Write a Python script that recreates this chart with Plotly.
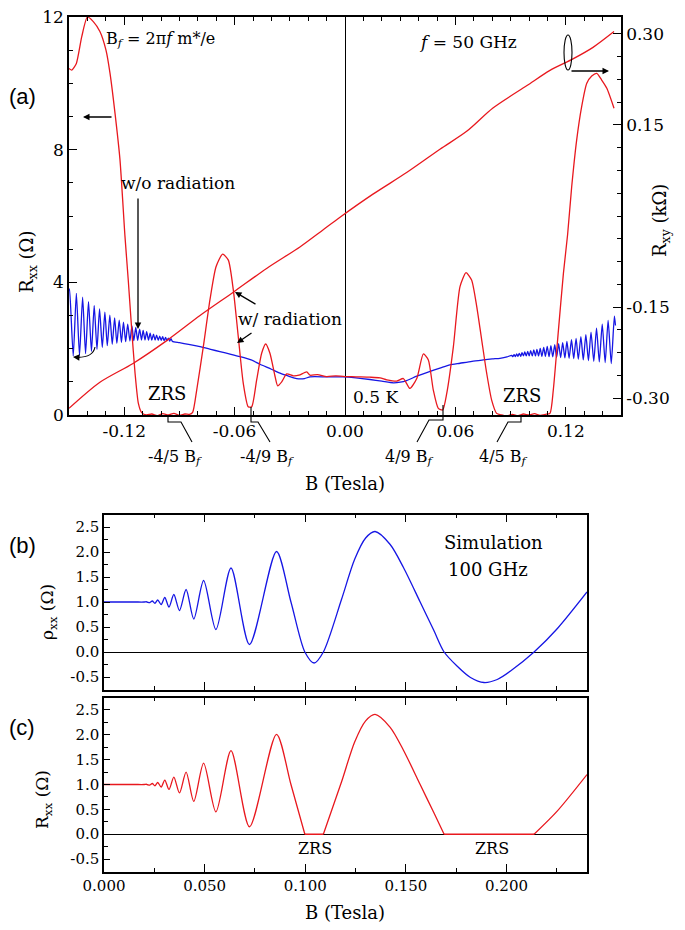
import plotly.graph_objects as go

W, H = 685, 930
SERIF = "DejaVu Serif"
SANS = "Liberation Sans"
RED = "rgb(232,24,30)"
BLUE = "rgb(22,22,228)"

# ---------------- panel (a) ----------------
# Rxx with radiation (Ohm)
rad_B = [-0.1500, -0.1485, -0.1460, -0.1431, -0.1400, -0.1368, -0.1332, -0.1299, -0.1277,
         -0.1250, -0.1223, -0.1196, -0.1178, -0.1159, -0.1141, -0.1123, -0.1105, -0.1080,
         -0.1050, -0.1020, -0.0990, -0.0960, -0.0930, -0.0900, -0.0870, -0.0845, -0.0828,
         -0.0806, -0.0770, -0.0734, -0.0701, -0.0665, -0.0634, -0.0607, -0.0580, -0.0553,
         -0.0526, -0.0507, -0.0480, -0.0453, -0.0431, -0.0408, -0.0380, -0.0366, -0.0344,
         -0.0317, -0.0281, -0.0250, -0.0208, -0.0190, -0.0150, -0.0100, -0.0050, 0.0009,
         0.0060, 0.0136, 0.0190, 0.0227, 0.0281, 0.0317, 0.0353, 0.0390, 0.0426, 0.0453,
         0.0480, 0.0507, 0.0531, 0.0553, 0.0589, 0.0625, 0.0658, 0.0688, 0.0716, 0.0743,
         0.0770, 0.0797, 0.0824, 0.0850, 0.0880, 0.0910, 0.0940, 0.0970, 0.1000, 0.1030,
         0.1060, 0.1090, 0.1114, 0.1132, 0.1160, 0.1187, 0.1210, 0.1232, 0.1259, 0.1286,
         0.1314, 0.1341, 0.1368, 0.1395, 0.1423, 0.1462]
rad_R = [10.45, 10.40, 10.60, 11.40, 12.00, 11.86, 11.56, 11.00, 10.30,
         9.10, 7.70, 5.40, 4.07, 2.56, 1.26, 0.35, 0.07, 0.00,
         0.03, -0.02, 0.04, 0.00, 0.05, -0.01, 0.03, 0.02, 0.08,
         0.75, 2.06, 3.47, 4.47, 4.85, 4.67, 3.77, 2.36, 0.96,
         0.25, 0.25, 1.06, 1.86, 2.14, 1.86, 1.16, 0.88, 1.00,
         1.24, 1.18, 1.20, 1.30, 1.20, 1.22, 1.16, 1.18, 1.16,
         1.15, 1.14, 1.12, 1.06, 1.02, 1.10, 0.80, 1.10, 1.84, 1.66,
         0.75, 0.20, 0.15, 0.65, 2.06, 3.87, 4.29, 4.07, 3.27, 2.26,
         1.26, 0.45, 0.05, 0.00, -0.03, 0.02, -0.02, 0.03, 0.00, 0.04,
         -0.01, 0.02, 0.05, 0.75, 2.56, 4.27, 5.45, 6.88, 8.29, 9.29,
         10.00, 10.22, 10.30, 10.10, 9.85, 9.25]

# Rxy (kOhm)
hall_B = [-0.1500, -0.1332, -0.1152, -0.0967, -0.0788, -0.0609, -0.0424, -0.0245, -0.0120,
          -0.0027, 0.0152, 0.0337, 0.0516, 0.0663, 0.0804, 0.0989, 0.1114, 0.1239, 0.1348, 0.1462]
hall_R = [-0.317, -0.274, -0.243, -0.205, -0.164, -0.126, -0.086, -0.051, -0.023,
          -0.002, 0.036, 0.072, 0.110, 0.140, 0.178, 0.215, 0.240, 0.259, 0.278, 0.304]

# Rxx without radiation: SdH maxima / minima and the smooth middle part
dark_start_B = [-0.1500]
dark_start_R = [3.75]
dark_lpk_B = [-0.1497, -0.1460, -0.1426, -0.1394, -0.1363, -0.1334, -0.1305, -0.1278, -0.1252,
              -0.1227, -0.1204, -0.1181, -0.1158, -0.1137, -0.1116, -0.1097, -0.1078, -0.1059,
              -0.1041, -0.1024, -0.1007, -0.0991, -0.0975, -0.0960, -0.0946]
dark_lpk_R = [3.80, 3.67, 3.55, 3.42, 3.30, 3.20, 3.10, 3.01, 2.93, 2.86, 2.80, 2.74, 2.69,
              2.64, 2.59, 2.55, 2.51, 2.47, 2.44, 2.41, 2.38, 2.36, 2.34, 2.32, 2.30]
dark_ltr_B = [-0.1477, -0.1443, -0.1410, -0.1378, -0.1348, -0.1319, -0.1292, -0.1265, -0.1240,
              -0.1215, -0.1192, -0.1169, -0.1148, -0.1127, -0.1106, -0.1087, -0.1068, -0.1050,
              -0.1032, -0.1015, -0.0999, -0.0983, -0.0968, -0.0953, -0.0938]
dark_ltr_R = [1.78, 1.80, 1.85, 1.92, 1.98, 2.04, 2.09, 2.13, 2.16, 2.19, 2.21, 2.23, 2.24,
              2.25, 2.26, 2.26, 2.26, 2.26, 2.26, 2.25, 2.25, 2.24, 2.24, 2.23, 2.22]
dark_mid_B = [-0.0900, -0.0850, -0.0788, -0.0730, -0.0680, -0.0620, -0.0570, -0.0510, -0.0462,
              -0.0400, -0.0353, -0.0300, -0.0263, -0.0220, -0.0190, -0.0100, -0.0009, 0.0060,
              0.0136, 0.0200, 0.0263, 0.0300, 0.0335, 0.0390, 0.0444, 0.0520, 0.0570, 0.0625,
              0.0690, 0.0752, 0.0800, 0.0842, 0.0880]
dark_mid_R = [2.18, 2.13, 2.06, 1.98, 1.91, 1.83, 1.76, 1.66, 1.53,
              1.38, 1.26, 1.16, 1.10, 1.10, 1.15, 1.15, 1.15, 1.12,
              1.07, 1.02, 0.97, 0.99, 1.04, 1.17, 1.28, 1.42, 1.51, 1.56,
              1.62, 1.66, 1.69, 1.71, 1.75]
dark_rpk_B = [0.0906, 0.0919, 0.0933, 0.0947, 0.0962, 0.0977, 0.0993, 0.1009, 0.1026, 0.1043,
              0.1061, 0.1080, 0.1099, 0.1119, 0.1140, 0.1161, 0.1183, 0.1206, 0.1231, 0.1256,
              0.1282, 0.1309, 0.1337, 0.1367, 0.1398, 0.1430, 0.1464]
dark_rpk_R = [1.80, 1.82, 1.84, 1.86, 1.88, 1.90, 1.92, 1.94, 1.96, 1.98,
              2.01, 2.04, 2.07, 2.09, 2.12, 2.15, 2.18, 2.22, 2.27, 2.31,
              2.36, 2.42, 2.50, 2.62, 2.74, 2.85, 2.98]
dark_rtr_B = [0.0912, 0.0926, 0.0940, 0.0955, 0.0970, 0.0985, 0.1001, 0.1018, 0.1035, 0.1052,
              0.1070, 0.1089, 0.1109, 0.1129, 0.1150, 0.1172, 0.1195, 0.1218, 0.1243, 0.1268,
              0.1295, 0.1323, 0.1352, 0.1382, 0.1414, 0.1447]
dark_rtr_R = [1.76, 1.76, 1.77, 1.77, 1.78, 1.78, 1.78, 1.78, 1.78, 1.78,
              1.77, 1.77, 1.76, 1.75, 1.74, 1.73, 1.72, 1.71, 1.70, 1.68,
              1.66, 1.64, 1.62, 1.60, 1.58, 1.55]
dark_end_B = [0.1470]
dark_end_R = [2.70]

a_xticks = [-0.12, -0.06, 0.00, 0.06, 0.12]
a_xtext = ["-0.12", "-0.06", "0.00", "0.06", "0.12"]
rxx_ticks = [0, 4, 8, 12]
rxy_ticks = [-0.30, -0.15, 0.15, 0.30]
rxy_text = ["-0.30", "-0.15", "0.15", "0.30"]

# ---------------- panels (b) and (c): simulation, 100 GHz ----------------
sim_B = [0.0000, 0.0150, 0.0200, 0.0210, 0.0218, 0.0228, 0.0240, 0.0253, 0.0267, 0.0284,
         0.0302, 0.0323, 0.0347, 0.0375, 0.0408, 0.0446, 0.0495, 0.0556, 0.0631, 0.0723,
         0.0857, 0.0929, 0.0998, 0.1044, 0.1090, 0.1180, 0.1245, 0.1300, 0.1347, 0.1422,
         0.1488, 0.1571, 0.1638, 0.1690, 0.1754, 0.1821, 0.1888, 0.1954, 0.2020, 0.2137,
         0.2253, 0.2400]
sim_rho = [1.00, 1.00, 1.00, 1.005, 0.995, 0.99, 1.02, 0.975, 1.04, 0.95,
           1.09, 0.90, 1.15, 0.83, 1.25, 0.66, 1.43, 0.45, 1.68, 0.15,
           2.01, 1.00, 0.00, -0.22, 0.00, 1.05, 1.85, 2.28, 2.41, 2.15,
           1.69, 1.00, 0.44, 0.00, -0.28, -0.51, -0.61, -0.55, -0.38, 0.00,
           0.47, 1.20]

sim_yticks = [-0.5, 0.0, 0.5, 1.0, 1.5, 2.0, 2.5]
sim_ytext = ["-0.5", "0.0", "0.5", "1.0", "1.5", "2.0", "2.5"]
sim_xticks = [0.0, 0.05, 0.10, 0.15, 0.20]
sim_xtext = ["0.000", "0.050", "0.100", "0.150", "0.200"]


def merge(*pairs):
    pts = []
    for bs, rs in pairs:
        pts += list(zip(bs, rs))
    pts.sort()
    return [p[0] for p in pts], [p[1] for p in pts]


dark_B, dark_R = merge((dark_start_B, dark_start_R), (dark_lpk_B, dark_lpk_R),
                       (dark_ltr_B, dark_ltr_R), (dark_mid_B, dark_mid_R),
                       (dark_rpk_B, dark_rpk_R), (dark_rtr_B, dark_rtr_R),
                       (dark_end_B, dark_end_R))

# (c): negative resistance is replaced by the zero-resistance state
rxx_pos = [r if r >= 0 else None for r in sim_rho]
zeros = [b for b, r in zip(sim_B, sim_rho) if r == 0]
zrs_x, zrs_y = [], []
for i in range(0, len(zeros) - 1, 2):
    zrs_x += [zeros[i], zeros[i + 1], None]
    zrs_y += [0, 0, None]


def P(px, py):
    return px / W, 1 - py / H


def dom_x(a, b):
    return [a / W, b / W]


def dom_y(top, bottom):
    return [1 - bottom / H, 1 - top / H]


fig = go.Figure()
fig.add_trace(go.Scatter(x=dark_B, y=dark_R, mode="lines", xaxis="x", yaxis="y",
                         line=dict(color=BLUE, width=1.3, shape="spline", smoothing=0.6)))
fig.add_trace(go.Scatter(x=rad_B, y=rad_R, mode="lines", xaxis="x", yaxis="y",
                         line=dict(color=RED, width=1.3, shape="spline", smoothing=0.6)))
fig.add_trace(go.Scatter(x=hall_B, y=hall_R, mode="lines", xaxis="x", yaxis="y2",
                         line=dict(color=RED, width=1.3, shape="spline", smoothing=0.8)))
fig.add_trace(go.Scatter(x=sim_B, y=sim_rho, mode="lines", xaxis="x2", yaxis="y3",
                         line=dict(color=BLUE, width=1.3, shape="spline", smoothing=0.8)))
fig.add_trace(go.Scatter(x=sim_B, y=rxx_pos, mode="lines", xaxis="x3", yaxis="y4",
                         connectgaps=False,
                         line=dict(color=RED, width=1.3, shape="spline", smoothing=0.8)))
fig.add_trace(go.Scatter(x=zrs_x, y=zrs_y, mode="lines", xaxis="x3", yaxis="y4",
                         line=dict(color=RED, width=1.6)))

tick_a = dict(family=SERIF, size=17, color="black")
tick_b = dict(family=SERIF, size=15, color="black")
base = dict(showline=True, linecolor="black", linewidth=1.5, ticks="inside",
            tickcolor="black", ticklen=8, tickwidth=1.2, showgrid=False, zeroline=False,
            automargin=False)


def minor(dtick):
    return dict(ticks="inside", ticklen=4, tickcolor="black", tickwidth=1.1,
                showgrid=False, tickmode="linear", tick0=0, dtick=dtick)


layout = dict(
    width=W, height=H, margin=dict(l=0, r=0, t=0, b=0, autoexpand=False),
    paper_bgcolor="white", plot_bgcolor="white", showlegend=False,
    xaxis=dict(base, domain=dom_x(69, 621), anchor="y", range=[-0.15, 0.15],
               tickmode="array", tickvals=a_xticks, ticktext=a_xtext, tickfont=tick_a,
               minor=minor(0.01), mirror="ticks",
               zeroline=True, zerolinecolor="black", zerolinewidth=1.3),
    yaxis=dict(base, domain=dom_y(17, 415), anchor="x", range=[0, 12],
               tickmode="array", tickvals=rxx_ticks, tickfont=tick_a, minor=minor(1)),
    yaxis2=dict(base, overlaying="y", side="right", anchor="x", range=[-0.328, 0.328],
                tickmode="array", tickvals=rxy_ticks, ticktext=rxy_text, tickfont=tick_a,
                minor=minor(0.0375)),
    xaxis2=dict(base, domain=dom_x(104, 587), anchor="y3", range=[0, 0.24],
                tickmode="array", tickvals=sim_xticks, showticklabels=False,
                minor=minor(0.025), mirror="ticks"),
    yaxis3=dict(base, domain=dom_y(514.5, 689.5), anchor="x2", range=[-0.75, 2.75],
                tickmode="array", tickvals=sim_yticks, ticktext=sim_ytext, tickfont=tick_b,
                minor=minor(0.25), mirror=True, ticklen=6,
                zeroline=True, zerolinecolor="black", zerolinewidth=1.3),
    xaxis3=dict(base, domain=dom_x(104, 587), anchor="y4", range=[0, 0.24],
                tickmode="array", tickvals=sim_xticks, ticktext=sim_xtext, tickfont=tick_b,
                minor=minor(0.025), mirror="ticks"),
    yaxis4=dict(base, domain=dom_y(697.5, 871.5), anchor="x3", range=[-0.75, 2.75],
                tickmode="array", tickvals=sim_yticks, ticktext=sim_ytext, tickfont=tick_b,
                minor=minor(0.25), mirror=True, ticklen=6,
                zeroline=True, zerolinecolor="black", zerolinewidth=1.3),
)
fig.update_layout(**layout)

annotations = []


def label(text, px, py, size=17, family=SERIF, angle=0, xanchor="center"):
    x, y = P(px, py)
    annotations.append(dict(text=text, x=x, y=y, xref="paper", yref="paper",
                            xanchor=xanchor, yanchor="middle", showarrow=False,
                            textangle=angle, font=dict(family=family, size=size, color="black")))


def arrow(hx, hy, tx, ty):
    x, y = P(hx, hy)
    annotations.append(dict(text="", x=x, y=y, xref="paper", yref="paper",
                            ax=tx - hx, ay=ty - hy, showarrow=True, arrowhead=2,
                            arrowsize=1, arrowwidth=1.3, arrowcolor="black"))


bf = "B<sub><i>f</i></sub>"
label(bf + " = 2π<i>f</i> m*/e", 104, 40, size=16, xanchor="left")
label("<i>f</i> = 50 GHz", 417, 42, xanchor="left")
label("(a)", 22, 97, size=22, family=SANS)
label("w/o radiation", 178, 183)
label("w/ radiation", 290, 319)
label("ZRS", 167, 394, size=18)
label("ZRS", 522, 395, size=18)
label("0.5 K", 375, 397)
label("-4/5 " + bf, 175, 458, size=16)
label("-4/9 " + bf, 267, 458, size=16)
label("4/9 " + bf, 409, 458, size=16)
label("4/5 " + bf, 504, 458, size=16)
label("B (Tesla)", 345, 484, size=18)
label("R<sub>xx</sub> (Ω)", 28, 262, size=18, angle=-90)
label("R<sub>xy</sub> (kΩ)", 661, 221, size=18, angle=-90)

label("(b)", 22, 545, size=22, family=SANS)
label("(c)", 22, 727, size=22, family=SANS)
label("Simulation", 493, 542, size=18)
label("100 GHz", 488, 569, size=18)
label("ρ<sub>xx</sub> (Ω)", 48, 612, size=17, angle=-90)
label("R<sub>xx</sub> (Ω)", 43, 800, size=17, angle=-90)
label("ZRS", 315, 848, size=16)
label("ZRS", 492, 848, size=16)
label("B (Tesla)", 345, 912, size=18)

arrow(83, 117, 113, 117)
arrow(609, 71, 570, 71)
arrow(138, 329, 138, 197)
arrow(235, 292, 257, 305)
arrow(237, 343, 253, 332)
arrow(73, 357, 80, 357.5)
fig.update_layout(annotations=annotations)


def path(points, curve=False):
    pts = [P(px, py) for px, py in points]
    if curve:
        (x0, y0), (cx, cy), (x1, y1) = pts
        return f"M {x0},{y0} Q {cx},{cy} {x1},{y1}"
    return "M " + " L ".join(f"{x},{y}" for x, y in pts)


line_style = dict(color="black", width=1.1)
shapes = [
    dict(type="circle", xref="paper", yref="paper",
         x0=564 / W, x1=572 / W, y0=1 - 70 / H, y1=1 - 35 / H, line=line_style),
    dict(type="path", xref="paper", yref="paper", line=line_style,
         path=path([(95, 347), (93, 358), (76, 357.3)], curve=True)),
    dict(type="path", xref="paper", yref="paper", line=line_style,
         path=path([(168, 415), (168, 422), (181, 422), (192, 442)])),
    dict(type="path", xref="paper", yref="paper", line=line_style,
         path=path([(251, 407), (251, 422), (258, 422), (270, 442)])),
    dict(type="path", xref="paper", yref="paper", line=line_style,
         path=path([(443, 405), (443, 420), (429, 420), (417, 442)])),
    dict(type="path", xref="paper", yref="paper", line=line_style,
         path=path([(521, 415), (521, 422), (508, 422), (497, 442)])),
]
fig.update_layout(shapes=shapes)

fig.write_html("out.html", config={"displayModeBar": False},
               post_script="document.body.style.margin='0';")
